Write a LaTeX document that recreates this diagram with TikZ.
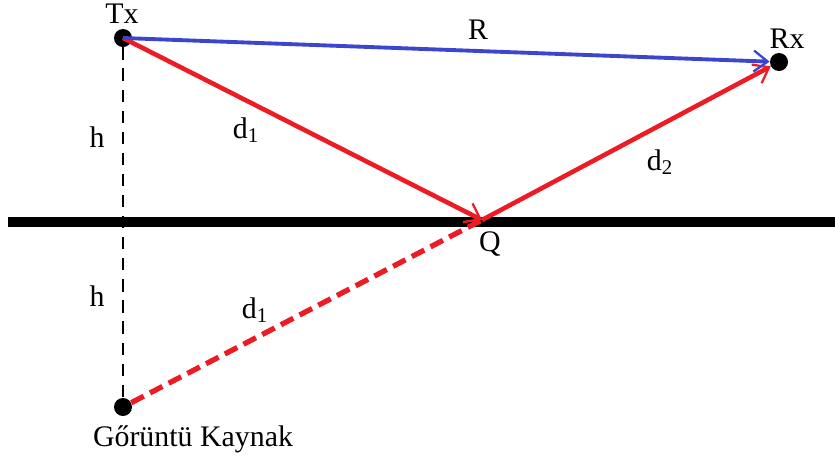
\documentclass[tikz,border=0pt]{standalone}
\usepackage{fontspec}
\setmainfont{Liberation Serif}
\usetikzlibrary{arrows.meta}
\definecolor{rayred}{RGB}{237,28,36}
\definecolor{rayblue}{RGB}{59,70,204}
\begin{document}
\begin{tikzpicture}[x=0.02cm, y=-0.02cm, every node/.style={font=\fontsize{17}{20}\selectfont}, dot/.style={circle, fill=black, inner sep=0pt, minimum size=0.36cm}, ray/.style={rayred, line width=2.6pt}, tip/.style={-{Straight Barb[length=8pt, width=12pt, line width=1.3pt]}}]
			\useasboundingbox (0,0) rectangle (835,461);
			\node[dot] (tx) at (123,38) {};
			\node[dot] (rx) at (779,62) {};
			\node[dot] (img) at (123,407) {};
			\coordinate (q) at (482,220);
			\draw[line width=1.5pt, dash pattern=on 7pt off 5pt] (tx) -- (img);
			\draw[line width=5.7pt] (8,222) -- (835,222);
			\draw[ray, line width=3pt, dash pattern=on 8pt off 4pt] (img) -- (q);
			\draw[ray, tip] (tx.center) -- (q);
			\draw[ray, tip] (q) -- (rx);
			\draw[rayblue, line width=2.2pt, tip] (tx.center) -- (rx);
			\node (txl) at (122,14) {Tx};
			\node (rxl) at (787,39) {Rx};
			\node (rl) at (478,30) {R};
			\node (d1a) at (246,130) {d\textsubscript{1}};
			\node (d2) at (660,162) {d\textsubscript{2}};
			\node (ql) at (490,244) {Q};
			\node (h1) at (97,137) {h};
			\node (h2) at (97,296) {h};
			\node (d1b) at (255,310) {d\textsubscript{1}};
			\node (imgl) at (193,439) {Gőrüntü Kaynak};
		\end{tikzpicture}
\end{document}
